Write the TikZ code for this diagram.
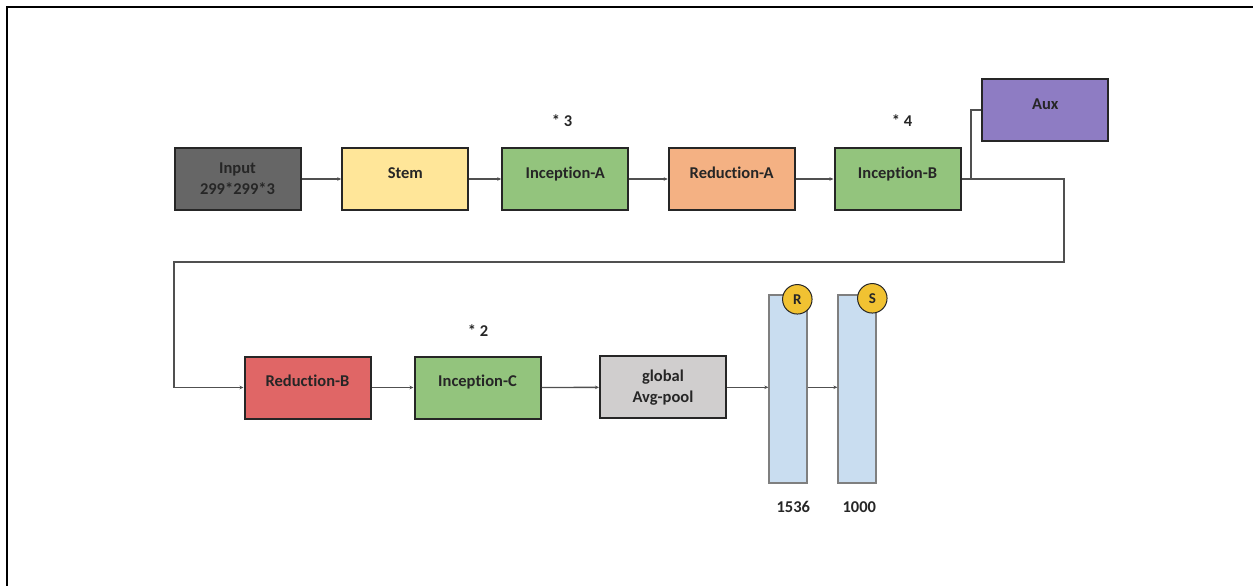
\documentclass[tikz,border=0pt]{standalone}
\usepackage{fontspec}
\setmainfont{Carlito}[Ligatures={NoCommon}]
\usetikzlibrary{arrows.meta}
\definecolor{txtc}{HTML}{262626}
\definecolor{edgec}{HTML}{262626}
\definecolor{linec}{HTML}{505050}
\definecolor{inputc}{HTML}{666666}
\definecolor{stemc}{HTML}{FFE699}
\definecolor{incc}{HTML}{93C47D}
\definecolor{redac}{HTML}{F4B183}
\definecolor{auxc}{HTML}{8E7CC3}
\definecolor{redbc}{HTML}{E06666}
\definecolor{poolc}{HTML}{D0CECE}
\definecolor{barc}{HTML}{C9DDF0}
\definecolor{baredge}{HTML}{7F7F7F}
\definecolor{dotc}{HTML}{F1C232}
\tikzset{
  blockbox/.style={draw=edgec, line width=2pt, minimum width=126pt, minimum height=62pt,
    inner sep=0pt, align=center, text=txtc, font=\fontsize{16.5}{20.7}\selectfont\bfseries},
  lbl/.style={anchor=base, inner sep=0pt, text=txtc, font=\fontsize{16.5}{20.7}\selectfont\bfseries},
  barbox/.style={draw=baredge, line width=1.3pt, fill=barc, minimum width=38pt,
    minimum height=188pt, inner sep=0pt},
  dot/.style={circle, draw=edgec, line width=1pt, fill=dotc, minimum size=29.5pt, inner sep=0pt,
    text=txtc, font=\fontsize{15}{17}\selectfont\bfseries},
  conn/.style={draw=linec, line width=1.3pt},
  arr/.style={conn, -{Stealth[length=4pt,width=3.5pt]}}
}
\begin{document}
\begin{tikzpicture}[x=1pt,y=-1pt]
\useasboundingbox (0,0) rectangle (1253,586);
% frame edges
\draw[line width=2pt, black] (6.5,586) -- (6.5,7.5) -- (1253,7.5);

% upper row
\node[blockbox, fill=inputc] (input) at (237.5,179) {Input\\299*299*3};
\node[blockbox, fill=stemc] (stem) at (405.3,179) {};
\node[blockbox, fill=incc] (inca) at (565.3,179) {};
\node[blockbox, fill=redac] (reda) at (731.7,179) {};
\node[blockbox, fill=incc] (incb) at (897.5,179) {};
\node[blockbox, fill=auxc] (aux) at (1045.3,110) {};

\node[lbl] (stemt) at (405.3,178) {Stem};
\node[lbl] (incat) at (565.3,178) {Inception-A};
\node[lbl] (redat) at (731.7,178) {Reduction-A};
\node[lbl] (incbt) at (897.5,178) {Inception-B};
\node[lbl] (auxt) at (1045.3,110) {Aux};
\node[lbl] (rep3) at (562,126.7) {* 3};
\node[lbl] (rep4) at (902,126.7) {* 4};

% lower row
\node[blockbox, fill=redbc] (redb) at (307.5,387.5) {};
\node[blockbox, fill=incc] (incc) at (477.5,387.5) {};
\node[blockbox, fill=poolc] (pool) at (663,387.3) {global\\Avg-pool};
\node[barbox] (barR) at (788,389) {};
\node[barbox] (barS) at (857,389) {};
\node[dot] (dotR) at (797.3,299.3) {R};
\node[dot] (dotS) at (872.3,298.3) {S};

\node[lbl] (redbt) at (307.5,386.7) {Reduction-B};
\node[lbl] (incct) at (477.5,386.7) {Inception-C};
\node[lbl] (rep2) at (478,336.7) {* 2};
\node[lbl] (nR) at (793.3,512.7) {1536};
\node[lbl] (nS) at (859.3,512.7) {1000};

% connectors
\draw[arr] (input) -- (stem);
\draw[arr] (stem) -- (inca);
\draw[arr] (inca) -- (reda);
\draw[arr] (reda) -- (incb);
\coordinate (split) at (971,179);
\coordinate (c1) at (1064,179);
\coordinate (c2) at (1064,262);
\coordinate (c3) at (174,262);
\draw[conn] (incb.east) -- (split) |- (aux.west);
\draw[arr] (split) -- (c1) -- (c2) -- (c3) |- (redb.west);
\draw[arr] (redb) -- (incc);
\draw[arr] (incc) -- (pool);
\draw[arr] (pool.east) -- (pool.east -| barR.west);
\draw[arr] (pool.east -| barR.east) -- (pool.east -| barS.west);
\end{tikzpicture}
\end{document}
